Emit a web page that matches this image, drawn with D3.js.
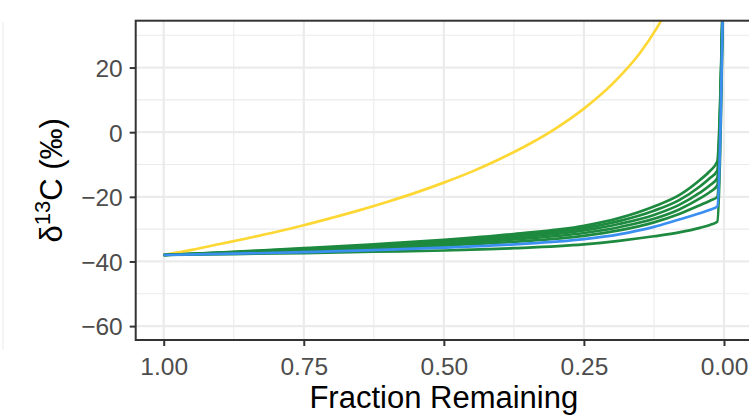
<!DOCTYPE html>
<html>
<head>
<meta charset="utf-8">
<script src="https://cdn.jsdelivr.net/npm/d3@7"></script>
<style>
    body { margin: 0; overflow: hidden; background: #fff; }
    #chart-area { width: 749px; height: 416px; overflow: hidden; }
    text { font-family: "Liberation Sans", Arial, Helvetica, sans-serif; }
</style>
</head>
<body>
<div id="chart-area"></div>
<script>
// fraction remaining for the slow curves (green + blue)
const fractionRemaining = [1, 0.875, 0.75, 0.625, 0.5, 0.375, 0.25, 0.1875, 0.125, 0.08, 0.043, 0.025, 0.012, 0];

// delta13C (last point is off the top of the panel)
const green1 = [-38, -37.0, -35.9, -34.7, -33.3, -31.5, -29.0, -26.6, -23.0, -19.5, -14.8, -12.0, -9.1, 60];
const green2 = [-38, -37.1, -36.1, -35.0, -33.7, -32.0, -29.7, -27.5, -24.3, -21.0, -16.8, -14.2, -11.9, 60];
const green3 = [-38, -37.2, -36.3, -35.3, -34.1, -32.6, -30.4, -28.4, -25.6, -22.5, -18.7, -16.4, -14.2, 60];
const green4 = [-38, -37.3, -36.5, -35.6, -34.6, -33.2, -31.2, -29.4, -26.8, -23.9, -20.5, -18.5, -16.5, 60];
const green5 = [-38, -37.4, -36.8, -36.0, -35.1, -33.9, -32.1, -30.4, -27.9, -25.3, -22.6, -21.2, -20.0, 60];
const green6 = [-38, -37.7, -37.4, -37.0, -36.6, -35.9, -34.7, -33.6, -32.2, -31.0, -29.6, -28.7, -27.7, 60];
const blueDelta = [-38, -37.6, -37.1, -36.5, -35.7, -34.7, -33.1, -31.6, -29.3, -27.0, -25.1, -24.0, -23.0, 60];

// the fast (yellow) curve
const yellowFraction = [1, 0.95, 0.9, 0.85, 0.8, 0.75, 0.7, 0.65, 0.6, 0.55, 0.5, 0.45, 0.4, 0.35, 0.3, 0.25, 0.2, 0.15, 0.12, 0.1];
const yellowDelta = [-38, -36.4, -34.6, -32.8, -30.9, -28.8, -26.5, -24.1, -21.5, -18.7, -15.6, -12.2, -8.3, -3.9, 1.2, 7.3, 14.8, 24.5, 32.2, 38.4];

const xTicks = [1, 0.75, 0.5, 0.25, 0];
const xMinor = [0.875, 0.625, 0.375, 0.125];
const yTicks = [-60, -40, -20, 0, 20];
const yMinor = [-50, -30, -10, 10, 30];

class FractionPlot {

    constructor(parentElement) {
        this.parentElement = parentElement;
        this.displayData = [];
        this.initVis();
    }

    initVis() {
        let vis = this;

        vis.margin = {top: 20.7, right: 0, bottom: 76, left: 135.7};
        vis.width = 616.3;
        vis.height = 319.3;

        vis.svg = d3.select("#" + vis.parentElement).append("svg")
            .attr("width", 760)
            .attr("height", 416);

        // faint edge left over from neighbouring panel
        vis.svg.append("line")
            .attr("x1", 3).attr("x2", 3)
            .attr("y1", 22).attr("y2", 350)
            .attr("stroke", "#f2f2f2")
            .attr("stroke-width", 1.5);

        vis.g = vis.svg.append("g")
            .attr("transform", `translate(${vis.margin.left}, ${vis.margin.top})`);

        vis.x = d3.scaleLinear()
            .domain([1.05, -0.05])
            .range([0, vis.width]);

        vis.y = d3.scaleLinear()
            .domain([-64.3, 34.5])
            .range([vis.height, 0]);

        // grid
        vis.g.selectAll(".minor-x").data(xMinor).enter().append("line")
            .attr("x1", d => vis.x(d)).attr("x2", d => vis.x(d))
            .attr("y1", 0).attr("y2", vis.height)
            .attr("stroke", "#ebebeb").attr("stroke-width", 1.1);
        vis.g.selectAll(".minor-y").data(yMinor).enter().append("line")
            .attr("x1", 0).attr("x2", vis.width)
            .attr("y1", d => vis.y(d)).attr("y2", d => vis.y(d))
            .attr("stroke", "#ebebeb").attr("stroke-width", 1.1);
        vis.g.selectAll(".major-x").data(xTicks).enter().append("line")
            .attr("x1", d => vis.x(d)).attr("x2", d => vis.x(d))
            .attr("y1", 0).attr("y2", vis.height)
            .attr("stroke", "#ebebeb").attr("stroke-width", 2.2);
        vis.g.selectAll(".major-y").data(yTicks).enter().append("line")
            .attr("x1", 0).attr("x2", vis.width)
            .attr("y1", d => vis.y(d)).attr("y2", d => vis.y(d))
            .attr("stroke", "#ebebeb").attr("stroke-width", 2.2);

        vis.g.append("clipPath").attr("id", "panel-clip")
            .append("rect").attr("width", vis.width).attr("height", vis.height);

        vis.lines = vis.g.append("g").attr("clip-path", "url(#panel-clip)");

        // panel border
        vis.g.append("rect")
            .attr("width", vis.width).attr("height", vis.height)
            .attr("fill", "none").attr("stroke", "#333").attr("stroke-width", 2);

        // axes
        vis.xAxis = vis.g.append("g")
            .attr("class", "x-axis axis")
            .attr("transform", `translate(0, ${vis.height})`)
            .call(d3.axisBottom(vis.x).tickValues(xTicks).tickFormat(d3.format(".2f")).tickSize(6).tickPadding(6));

        vis.yAxis = vis.g.append("g")
            .attr("class", "y-axis axis")
            .call(d3.axisLeft(vis.y).tickValues(yTicks).tickSize(6).tickPadding(7));

        vis.g.selectAll(".axis .domain").remove();
        vis.g.selectAll(".axis .tick line").attr("stroke", "#333").attr("stroke-width", 2);
        vis.g.selectAll(".axis .tick text")
            .attr("fill", "#4d4d4d")
            .style("font-size", "24.5px");
        vis.xAxis.selectAll(".tick text").attr("dy", "0.95em");
        vis.yAxis.selectAll(".tick text").attr("dy", "0.36em");

        // titles
        vis.svg.append("text")
            .attr("x", vis.margin.left + vis.width / 2)
            .attr("y", 408)
            .attr("text-anchor", "middle")
            .style("font-size", "31px")
            .text("Fraction Remaining");

        let yt = vis.svg.append("text")
            .attr("transform", `translate(62, ${vis.margin.top + vis.height / 2}) rotate(-90)`)
            .attr("text-anchor", "middle")
            .style("font-size", "31px");
        yt.append("tspan").text("δ");
        yt.append("tspan").attr("dy", -12).style("font-size", "22px").text("13");
        yt.append("tspan").attr("dy", 12).text("C (‰)");

        vis.wrangleData();
    }

    wrangleData() {
        let vis = this;

        let pair = (fr, vals) => fr.map((f, i) => ({f: f, delta: vals[i]}));

        vis.displayData = [
            {name: "yellow", color: "#fdd835", values: pair(yellowFraction, yellowDelta)},
            {name: "g1", color: "#1d8a3f", values: pair(fractionRemaining, green1)},
            {name: "g2", color: "#1d8a3f", values: pair(fractionRemaining, green2)},
            {name: "g3", color: "#1d8a3f", values: pair(fractionRemaining, green3)},
            {name: "g4", color: "#1d8a3f", values: pair(fractionRemaining, green4)},
            {name: "g5", color: "#1d8a3f", values: pair(fractionRemaining, green5)},
            {name: "g6", color: "#1d8a3f", values: pair(fractionRemaining, green6)},
            {name: "blue", color: "#3a8ff0", values: pair(fractionRemaining, blueDelta)}
        ];

        vis.updateVis();
    }

    updateVis() {
        let vis = this;

        let line = d3.line()
            .x(d => vis.x(d.f))
            .y(d => vis.y(d.delta))
            .curve(d3.curveMonotoneX);

        vis.lines.selectAll(".curve")
            .data(vis.displayData)
            .enter()
            .append("path")
            .attr("class", "curve")
            .attr("fill", "none")
            .attr("stroke", d => d.color)
            .attr("stroke-width", 2.7)
            .attr("stroke-linejoin", "round")
            .attr("d", d => line(d.values));
    }
}

new FractionPlot("chart-area");
</script>
</body>
</html>
